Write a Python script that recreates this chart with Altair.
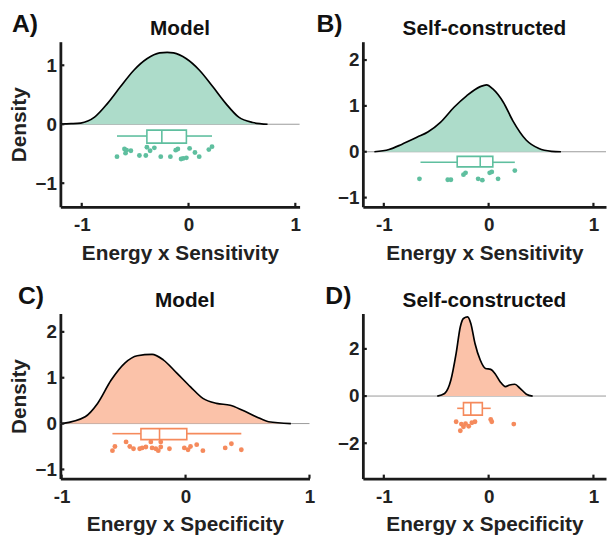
import altair as alt
import pandas as pd

FONT = "Liberation Sans"

# ---------------- text ----------------
panel_labels = ["A)", "B)", "C)", "D)"]
panel_titles = ["Model", "Self-constructed", "Model", "Self-constructed"]
x_titles = ["Energy x Sensitivity", "Energy x Sensitivity",
            "Energy x Specificity", "Energy x Specificity"]
y_titles = ["Density", "", "Density", ""]
x_ticks = [-1, 0, 1]
y_ticks = [[-1, 0, 1], [-1, 0, 1, 2], [-1, 0, 1, 2], [-2, 0, 2]]

# ---------------- Panel A: Model, Energy x Sensitivity ----------------
a_dens_x = [-1.2, -1.1, -1.01, -0.88, -0.76, -0.64, -0.51, -0.39, -0.27, -0.20,
            -0.14, -0.02, 0.10, 0.23, 0.35, 0.47, 0.60, 0.74]
a_dens_y = [0.005, 0.01, 0.02, 0.12, 0.35, 0.63, 0.92, 1.11, 1.21, 1.22,
            1.21, 1.11, 0.92, 0.63, 0.35, 0.12, 0.03, 0.0]
a_pts_x = [-0.67, -0.60, -0.59, -0.58, -0.54, -0.46, -0.40, -0.39, -0.36, -0.32, -0.26,
           -0.17, -0.12, -0.10, -0.07, -0.05, -0.02, 0.01, 0.06, 0.10, 0.19, 0.22]
a_pts_y = [-0.55, -0.42, -0.49, -0.44, -0.45, -0.53, -0.53, -0.39, -0.45, -0.40, -0.55,
           -0.55, -0.44, -0.42, -0.59, -0.58, -0.57, -0.41, -0.48, -0.55, -0.43, -0.38]
a_box = [-0.67, -0.39, -0.25, -0.02, 0.22]  # whisker low, q1, median, q3, whisker high

# ---------------- Panel B: Self-constructed, Energy x Sensitivity ----------------
b_dens_x = [-1.09, -0.95, -0.83, -0.68, -0.58, -0.46, -0.33, -0.21, -0.08, -0.02,
            0.04, 0.14, 0.23, 0.36, 0.48, 0.60, 0.69]
b_dens_y = [0.0, 0.05, 0.16, 0.32, 0.43, 0.64, 0.97, 1.22, 1.42, 1.46,
            1.37, 1.08, 0.68, 0.25, 0.07, 0.01, 0.0]
b_pts_x = [-0.66, -0.39, -0.36, -0.24, -0.22, -0.10, -0.06, 0.01, 0.03, 0.09, 0.25]
b_pts_y = [-0.59, -0.61, -0.61, -0.50, -0.46, -0.59, -0.62, -0.46, -0.44, -0.59, -0.41]
b_box = [-0.65, -0.30, -0.08, 0.04, 0.25]

# ---------------- Panel C: Model, Energy x Specificity ----------------
c_dens_x = [-1.0, -0.81, -0.71, -0.60, -0.49, -0.39, -0.27, -0.18, -0.07, 0.04,
            0.14, 0.25, 0.36, 0.46, 0.57, 0.67, 0.85]
c_dens_y = [0.0, 0.15, 0.44, 0.95, 1.32, 1.48, 1.51, 1.39, 1.10, 0.80,
            0.55, 0.44, 0.40, 0.29, 0.15, 0.04, 0.0]
c_pts_x = [-0.59, -0.57, -0.48, -0.45, -0.42, -0.37, -0.35, -0.32, -0.28, -0.27, -0.24,
           -0.22, -0.20, -0.20, -0.13, -0.01, 0.02, 0.04, 0.09, 0.14, 0.32, 0.37, 0.45]
c_pts_y = [-0.59, -0.50, -0.40, -0.50, -0.55, -0.55, -0.53, -0.51, -0.40, -0.53, -0.55,
           -0.59, -0.40, -0.51, -0.55, -0.53, -0.57, -0.50, -0.46, -0.59, -0.53, -0.44, -0.57]
c_box = [-0.59, -0.36, -0.21, 0.01, 0.45]

# ---------------- Panel D: Self-constructed, Energy x Specificity ----------------
d_dens_x = [-0.49, -0.42, -0.36, -0.31, -0.27, -0.24, -0.20, -0.17, -0.13, -0.08,
            -0.03, 0.02, 0.06, 0.11, 0.16, 0.20, 0.25, 0.30, 0.36, 0.42]
d_dens_y = [0.0, 0.11, 0.68, 1.81, 2.94, 3.29, 3.36, 3.08, 2.23, 1.53,
            1.17, 1.13, 0.96, 0.61, 0.40, 0.47, 0.50, 0.33, 0.08, 0.0]
d_pts_x = [-0.31, -0.27, -0.26, -0.24, -0.22, -0.19, -0.16, -0.13, 0.02, 0.03, 0.24]
d_pts_y = [-1.09, -1.47, -1.19, -1.30, -1.17, -1.28, -1.13, -1.09, -0.99, -1.09, -1.19]
d_box = [-0.30, -0.24, -0.17, -0.06, 0.02]

GREEN, GREEN_FILL = "#5fbf9f", "#addcca"
ORANGE, ORANGE_FILL = "#f58a5c", "#fbc2a9"
AXIS_COLOR = "#1a1a1a"

# layout per panel (domains, plot size, vertical box placement, label offsets)
layouts = [
    dict(xdom=[-1.2, 1.04], ydom=[-1.4, 1.4], w=242, h=167, box_y=[-0.10, -0.32, -0.20], lab_dx=-49),
    dict(xdom=[-1.2, 1.12], ydom=[-1.2, 2.4], w=246, h=167, box_y=[-0.10, -0.33, -0.23], lab_dx=-47),
    dict(xdom=[-1.01, 1.0], ydom=[-1.2, 2.4], w=252, h=167, box_y=[-0.11, -0.35, -0.22], lab_dx=-43),
    dict(xdom=[-1.2, 1.12], ydom=[-3.5, 3.5], w=246, h=167, box_y=[-0.28, -0.81, -0.52], lab_dx=-38),
]


def make_panel(i, dens_x, dens_y, pts_x, pts_y, box, color, fill):
    lay = layouts[i]
    xs = alt.Scale(domain=lay["xdom"], nice=False, zero=False)
    ys = alt.Scale(domain=lay["ydom"], nice=False, zero=False)
    xaxis = alt.Axis(values=x_ticks, title=x_titles[i],
                     labelExpr="datum.value == 0 ? '0' : (datum.value > 0 ? '1' : '-1')",
                     labelOverlap=False, labelFlush=False, labelBound=False)
    yaxis = alt.Axis(values=y_ticks[i], title=y_titles[i], format="d",
                     labelOverlap=False, labelFlush=False, labelBound=False)

    def X(f):
        return alt.X(f, type="quantitative", scale=xs, axis=xaxis)

    def Y(f):
        return alt.Y(f, type="quantitative", scale=ys, axis=yaxis)

    dens = pd.DataFrame({"x": dens_x, "y": dens_y})
    pts = pd.DataFrame({"x": pts_x, "y": pts_y})
    top, bottom, mid = lay["box_y"]
    wlo, q1, med, q3, whi = box
    whisk = pd.DataFrame({"x": [wlo, q3], "x2": [q1, whi], "y": [mid, mid]})
    boxdf = pd.DataFrame({"q1": [q1], "q3": [q3], "med": [med], "top": [top], "bottom": [bottom]})

    zero = alt.Chart(pd.DataFrame({"y": [0]})).mark_rule(
        color="#9a9a9a", strokeWidth=1).encode(y=Y("y"))
    area = alt.Chart(dens).mark_area(color=fill, opacity=1, interpolate="monotone").encode(
        x=X("x"), y=Y("y"), y2=alt.datum(0))
    line = alt.Chart(dens).mark_line(color="black", strokeWidth=1.7, interpolate="monotone").encode(
        x=X("x"), y=Y("y"))
    wh = alt.Chart(whisk).mark_rule(color=color, strokeWidth=1.6).encode(
        x=X("x"), x2="x2", y=Y("y"))
    bx = alt.Chart(boxdf).mark_rect(fillOpacity=0, stroke=color, strokeWidth=1.6).encode(
        x=X("q1"), x2="q3", y=Y("top"), y2="bottom")
    md = alt.Chart(boxdf).mark_rule(color=color, strokeWidth=1.6).encode(
        x=X("med"), y=Y("top"), y2="bottom")
    dots = alt.Chart(pts).mark_circle(size=24, color=color, opacity=1).encode(
        x=X("x"), y=Y("y"))
    # inward tick marks (MATLAB style)
    xt = alt.Chart(pd.DataFrame({"v": x_ticks})).mark_rule(
        color=AXIS_COLOR, strokeWidth=2.2).encode(
        x=X("v"), y=alt.value(lay["h"]), y2=alt.value(lay["h"] - 4))
    yt = alt.Chart(pd.DataFrame({"v": y_ticks[i]})).mark_rule(
        color=AXIS_COLOR, strokeWidth=2.2).encode(
        y=Y("v"), x=alt.value(0), x2=alt.value(4))
    lab = alt.Chart(pd.DataFrame({"t": [panel_labels[i]]})).mark_text(
        font=FONT, fontSize=25, fontWeight="bold", align="left", baseline="alphabetic",
        color="#111").encode(x=alt.value(lay["lab_dx"]), y=alt.value(-10), text="t:N")
    ttl = alt.Chart(pd.DataFrame({"t": [panel_titles[i]]})).mark_text(
        font=FONT, fontSize=21, fontWeight="bold", align="center", baseline="alphabetic",
        color="#111").encode(x=alt.value(lay["w"] / 2), y=alt.value(-7), text="t:N")

    return alt.layer(zero, area, line, wh, bx, md, dots, xt, yt, lab, ttl).properties(
        width=lay["w"], height=lay["h"])


pA = make_panel(0, a_dens_x, a_dens_y, a_pts_x, a_pts_y, a_box, GREEN, GREEN_FILL)
pB = make_panel(1, b_dens_x, b_dens_y, b_pts_x, b_pts_y, b_box, GREEN, GREEN_FILL)
pC = make_panel(2, c_dens_x, c_dens_y, c_pts_x, c_pts_y, c_box, ORANGE, ORANGE_FILL)
pD = make_panel(3, d_dens_x, d_dens_y, d_pts_x, d_pts_y, d_box, ORANGE, ORANGE_FILL)

chart = alt.concat(pA, pB, pC, pD, columns=2, spacing={"row": 108, "column": 54},
                   bounds="flush", align="all").properties(
    padding={"left": 0, "top": 1, "right": 0, "bottom": 0}
).configure_view(strokeWidth=0).configure_axis(
    domainColor=AXIS_COLOR, domainWidth=2.8, ticks=False, tickSize=0, grid=False,
    labelFont=FONT, labelFontSize=19, labelFontWeight="bold", labelColor="#222",
    titleFont=FONT, titleFontSize=21, titleFontWeight="bold", titleColor="#222"
).configure_axisX(labelPadding=9, titlePadding=8).configure_axisY(labelPadding=4, titlePadding=6)

chart.save("out.html", embed_options={"renderer": "svg", "actions": False})
